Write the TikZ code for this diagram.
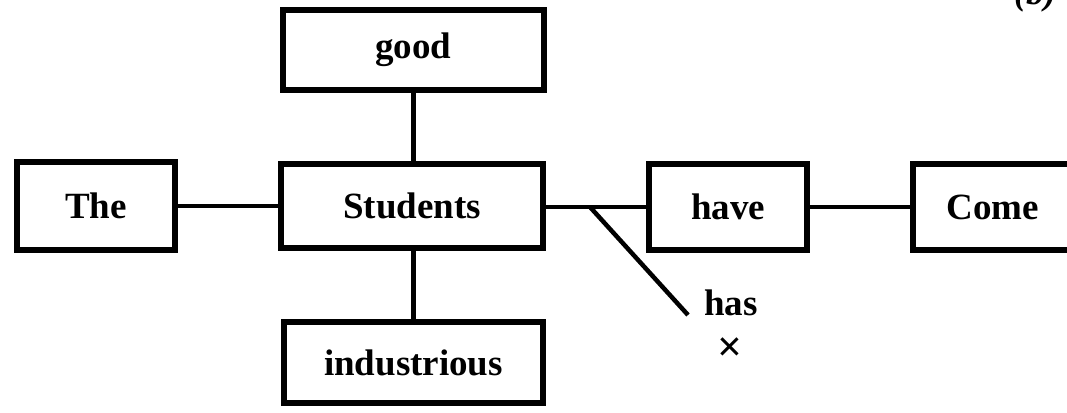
\documentclass[tikz,border=0pt]{standalone}
\usepackage{fontspec}
\setmainfont{Liberation Serif}
\begin{document}
\begin{tikzpicture}[x=1pt,y=1pt,
  wordbox/.style={draw, line width=6pt, inner sep=0pt, font=\bfseries\fontsize{37}{40}\selectfont},
  link/.style={line width=4.5pt},
  lbl/.style={inner sep=0pt, font=\bfseries\fontsize{37}{40}\selectfont}]
\useasboundingbox (0,0) rectangle (1067,412);
\clip (0,0) rectangle (1067,412);
\node[wordbox, minimum width=261pt, minimum height=80pt] (good) at (413.5,362) {good};
\node[wordbox, minimum width=158pt, minimum height=88pt] (the) at (96,206) {The};
\node[wordbox, minimum width=262pt, minimum height=84pt] (students) at (412,206) {Students};
\node[wordbox, minimum width=158pt, minimum height=86pt] (have) at (728,205) {have};
\node[wordbox, minimum width=160pt, minimum height=86pt] (come) at (993,205) {Come};
\node[wordbox, minimum width=259pt, minimum height=81pt] (indus) at (413.5,49.5) {industrious};
\draw[link] (good.south) -- (good.south |- students.north);
\draw[link] (indus.north) -- (indus.north |- students.south);
\draw[link] (the.east) -- (the.east -| students.west);
\draw[link] (students.east |- have.west) -- (have.west);
\draw[link] (have.east) -- (have.east -| come.west);
\coordinate (j) at (590,205);
\coordinate (hasend) at (688,97);
\draw[link] (j) -- (hasend);
\node[lbl] (has) at (731,109) {has};
\node[inner sep=0pt, font=\bfseries\fontsize{44}{46}\selectfont] (cross) at (730,62) {×};
\node[anchor=base, inner sep=0pt, font=\bfseries\itshape\fontsize{36}{40}\selectfont] (tag) at (1035,407) {(b)};
\end{tikzpicture}
\end{document}
